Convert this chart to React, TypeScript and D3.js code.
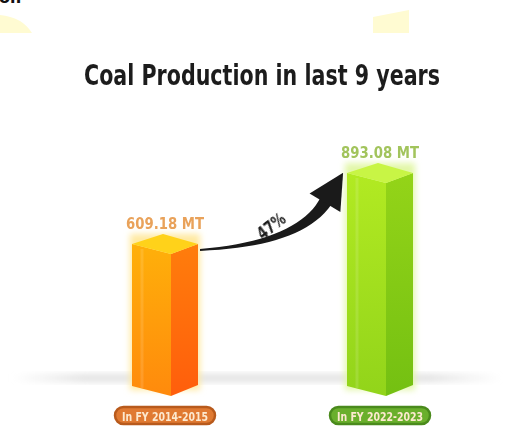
import { useEffect, useRef } from 'react'
import * as d3 from 'd3'

const categories = ['In FY 2014-2015', 'In FY 2022-2023']
const values = [609.18, 893.08]
const valueLabels = ['609.18 MT', '893.08 MT']
const growthLabel = '47%'
const title = 'Coal Production in last 9 years'

const palettes = [
  { top: '#ffd21a', left: ['#ffb00a', '#ff8a0c'], right: ['#ff7d0c', '#ff5e0c'], label: '#e9a25a', pill: '#e07a32', pillEdge: '#b85a1c', glow: '#ffe9a0' },
  { top: '#c8f545', left: ['#b2ea22', '#92d41a'], right: ['#94d418', '#74c012'], label: '#a2c45c', pill: '#6aaf2c', pillEdge: '#4a8a1c', glow: '#e2f7a8' },
]

export default function App() {
  const svgRef = useRef<SVGSVGElement>(null)

  useEffect(() => {
    const svg = d3.select(svgRef.current)
    svg.selectAll('*').remove()
    const width = 508
    const height = 426
    const base = 388

    const x = d3.scalePoint<string>().domain(categories).range([165, 380])
    const y = d3.scaleLinear().domain([0, d3.max(values)!]).range([base, 165])
    const bw = 66

    const defs = svg.append('defs')
    defs.append('filter').attr('id', 'glow').attr('x', '-30%').attr('y', '-30%').attr('width', '160%').attr('height', '160%')
      .append('feGaussianBlur').attr('stdDeviation', 3)
    defs.append('filter').attr('id', 'soft')
      .append('feGaussianBlur').attr('stdDeviation', 0.6)
    const fg = defs.append('linearGradient').attr('id', 'floor')
    fg.append('stop').attr('offset', '0%').attr('stop-color', '#e6e6e6').attr('stop-opacity', 0)
    fg.append('stop').attr('offset', '15%').attr('stop-color', '#e2e2e2')
    fg.append('stop').attr('offset', '85%').attr('stop-color', '#e2e2e2')
    fg.append('stop').attr('offset', '100%').attr('stop-color', '#e6e6e6').attr('stop-opacity', 0)
    palettes.forEach((p, i) => {
      ;(['left', 'right'] as const).forEach((side) => {
        const lg = defs.append('linearGradient').attr('id', `${side}${i}`)
          .attr('x1', 0).attr('y1', 0).attr('x2', 0).attr('y2', 1)
        lg.append('stop').attr('offset', '0%').attr('stop-color', p[side][0])
        lg.append('stop').attr('offset', '100%').attr('stop-color', p[side][1])
      })
    })

    svg.append('rect').attr('width', width).attr('height', height).attr('fill', '#fff')

    // decorative yellow shapes at the top
    svg.append('path').attr('d', 'M0,15 Q22,17 32,33 L0,33 Z').attr('fill', '#fffbd2')
    svg.append('path').attr('d', 'M373,17 L409,10 L409,33 L373,33 Z').attr('fill', '#fffbd2')
    svg.append('text').attr('x', -1).attr('y', 3).attr('font-family', 'DejaVu Sans').attr('font-weight', 'bold')
      .attr('font-size', 16).attr('fill', '#111').text('or.')

    // title
    svg.append('text').attr('x', 84).attr('y', 85)
      .attr('font-family', 'DejaVu Sans Condensed, DejaVu Sans').attr('font-weight', 'bold')
      .attr('font-size', 29).attr('fill', '#1e1e1e')
      .attr('textLength', 356).attr('lengthAdjust', 'spacingAndGlyphs')
      .attr('filter', 'url(#soft)')
      .text(title)

    // floor band
    svg.append('rect').attr('x', 12).attr('y', 374).attr('width', 490).attr('height', 8)
      .attr('fill', 'url(#floor)').attr('filter', 'url(#glow)')

    categories.forEach((c, i) => {
      const p = palettes[i]
      const cx = x(c)!
      const x0 = cx - bw / 2
      const x1 = cx + bw / 2
      const xm = cx + 6
      const yt = y(values[i]) - 2
      const yb = base + 2
      const g = svg.append('g')

      // halo
      g.append('rect').attr('x', x0 - 2).attr('y', yt).attr('width', bw + 4).attr('height', yb - yt)
        .attr('fill', p.glow).attr('filter', 'url(#glow)')

      g.append('path')
        .attr('d', `M${x0},${yt + 10} L${xm},${yt + 20} L${xm},${yb + 6} L${x0},${yb - 4} Z`)
        .attr('fill', `url(#left${i})`)
      g.append('path')
        .attr('d', `M${xm},${yt + 20} L${x1},${yt + 10} L${x1},${yb - 5} L${xm},${yb + 6} Z`)
        .attr('fill', `url(#right${i})`)
      g.append('path')
        .attr('d', `M${x0},${yt + 10} L${cx - 2},${yt} L${x1},${yt + 10} L${xm},${yt + 20} Z`)
        .attr('fill', p.top)
      g.append('line').attr('x1', x0 + 10).attr('x2', x0 + 10).attr('y1', yt + 15).attr('y2', yb - 2)
        .attr('stroke', '#fff').attr('stroke-opacity', 0.12).attr('stroke-width', 3)

      // value label
      svg.append('text').attr('x', cx).attr('y', yt - 5).attr('text-anchor', 'middle')
        .attr('font-family', 'DejaVu Sans Condensed, DejaVu Sans').attr('font-weight', 'bold')
        .attr('font-size', 16).attr('fill', p.label)
        .attr('textLength', 78).attr('lengthAdjust', 'spacingAndGlyphs')
        .attr('filter', 'url(#soft)')
        .text(valueLabels[i])

      // category pill
      svg.append('rect').attr('x', cx - 50).attr('y', 407).attr('width', 100).attr('height', 17).attr('rx', 8.5)
        .attr('fill', p.pill).attr('stroke', p.pillEdge).attr('stroke-width', 2.5)
      svg.append('text').attr('x', cx).attr('y', 420.5).attr('text-anchor', 'middle')
        .attr('font-family', 'DejaVu Sans Condensed, DejaVu Sans').attr('font-weight', 'bold')
        .attr('font-size', 13).attr('fill', '#fde9cf')
        .attr('textLength', 86).attr('lengthAdjust', 'spacingAndGlyphs')
        .attr('filter', 'url(#soft)')
        .text(c)
    })

    // growth arrow, tapered shaft along a quadratic curve
    const c0 = x(categories[0])!
    const c1 = x(categories[1])!
    const P0: [number, number] = [c0 + bw / 2 + 2, y(values[0]) + 14]
    const P2: [number, number] = [c1 - bw / 2 - 21, y(values[1]) + 36]
    const P1: [number, number] = [P0[0] + 100, P0[1] - 6]
    const bez = (t: number): [number, number] => [
      (1 - t) ** 2 * P0[0] + 2 * (1 - t) * t * P1[0] + t * t * P2[0],
      (1 - t) ** 2 * P0[1] + 2 * (1 - t) * t * P1[1] + t * t * P2[1],
    ]
    const der = (t: number): [number, number] => [
      2 * (1 - t) * (P1[0] - P0[0]) + 2 * t * (P2[0] - P1[0]),
      2 * (1 - t) * (P1[1] - P0[1]) + 2 * t * (P2[1] - P1[1]),
    ]
    const ts = d3.range(0, 1.0001, 0.05)
    const sideA: [number, number][] = []
    const sideB: [number, number][] = []
    ts.forEach((t) => {
      const [px, py] = bez(t)
      const [dx, dy] = der(t)
      const len = Math.hypot(dx, dy)
      const nx = -dy / len
      const ny = dx / len
      const w = (2 + 11 * t ** 1.2) / 2
      sideA.push([px + nx * w, py + ny * w])
      sideB.push([px - nx * w, py - ny * w])
    })
    const line = d3.line().curve(d3.curveLinear)
    const shaft = line([...sideA, ...sideB.reverse()])!
    svg.append('path').attr('d', shaft + 'Z').attr('fill', '#1a1a1a')

    const [ex, ey] = bez(1)
    const [dx, dy] = der(1)
    const len = Math.hypot(dx, dy)
    const ux = dx / len
    const uy = dy / len
    const nx = -uy
    const ny = ux
    const head = 33
    const half = 18
    const tip: [number, number] = [ex + ux * head, ey + uy * head]
    const bl: [number, number] = [ex + nx * half - ux * 2, ey + ny * half - uy * 2]
    const br: [number, number] = [ex - nx * half - ux * 2, ey - ny * half - uy * 2]
    svg.append('path').attr('d', line([bl, tip, br])! + 'Z').attr('fill', '#1a1a1a')

    svg.append('text').attr('transform', `translate(${(P0[0] + P2[0]) / 2 + 12},${P0[1] - 19}) rotate(-38)`)
      .attr('text-anchor', 'middle')
      .attr('font-family', 'DejaVu Sans Condensed, DejaVu Sans').attr('font-weight', 'bold')
      .attr('font-size', 18).attr('fill', '#1e1e1e')
      .attr('textLength', 31).attr('lengthAdjust', 'spacingAndGlyphs')
      .attr('filter', 'url(#soft)')
      .text(growthLabel)
  }, [])

  return (
    <svg ref={svgRef} width={508} height={426} style={{ position: 'absolute', left: 0, top: 0 }} />
  )
}
